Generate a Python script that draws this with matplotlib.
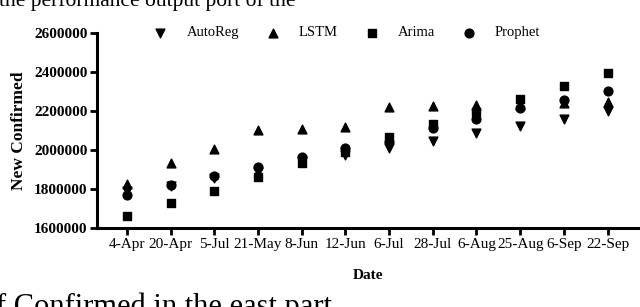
import matplotlib.pyplot as plt

plt.rcParams['font.family'] = ['Liberation Serif', 'DejaVu Serif']

dates = ['4-Apr', '20-Apr', '5-Jul', '21-May', '8-Jun', '12-Jun', '6-Jul',
         '28-Jul', '6-Aug', '25-Aug', '6-Sep', '22-Sep']
autoreg = [1790000, 1815000, 1855000, 1885000, 1945000, 1974000, 2009000,
           2048000, 2086000, 2123000, 2160000, 2200000]
lstm = [1824000, 1932000, 2003000, 2102000, 2110000, 2117000, 2219000,
        2225000, 2231000, 2230000, 2239000, 2248000]
arima = [1661000, 1727000, 1791000, 1863000, 1932000, 1990000, 2065000,
         2132000, 2196000, 2262000, 2328000, 2396000]
prophet = [1769000, 1820000, 1868000, 1914000, 1966000, 2009000, 2040000,
           2111000, 2159000, 2214000, 2256000, 2302000]
yticks = [1600000, 1800000, 2000000, 2200000, 2400000, 2600000]

fig = plt.figure(figsize=(6.4, 3.07), dpi=100)
ax = fig.add_axes([0.152, 0.257, 0.845, 0.636])

x = range(len(dates))
ax.scatter(x, autoreg, marker='v', s=40, color='black', label='AutoReg', zorder=3)
ax.scatter(x, lstm, marker='^', s=40, color='black', label='LSTM', zorder=3)
ax.scatter(x, arima, marker='s', s=36, color='black', label='Arima', zorder=3)
ax.scatter(x, prophet, marker='o', s=40, color='black', label='Prophet', zorder=3)

ax.set_xlim(-0.68, 11.7)
ax.set_ylim(1600000, 2600000)
ax.set_yticks(yticks)
ax.set_yticklabels([str(v) for v in yticks], fontweight='bold', fontsize=11)
ax.set_xticks(list(x))
ax.set_xticklabels(dates, fontsize=11)

for s in ['top', 'right']:
    ax.spines[s].set_visible(False)
for s in ['left', 'bottom']:
    ax.spines[s].set_linewidth(2.2)
ax.tick_params(axis='both', width=2, length=5, direction='out', pad=2)
ax.spines['left'].set_clip_on(False)

ax.set_ylabel('New Confirmed', fontweight='bold', fontsize=12.5, labelpad=5)
ax.set_xlabel('Date', fontweight='bold', fontsize=11, labelpad=13)

fig.legend(loc='center', bbox_to_anchor=(0.536, 0.893), ncol=4, frameon=False,
           fontsize=10.5, handletextpad=0.8, columnspacing=1.3, borderpad=0)

# fragments of surrounding page text
fig.text(-0.002, 0.980, 'the performance output port of the', fontsize=15.5,
         va='baseline', ha='left')
fig.text(-0.006, -0.026, 'f Confirmed in the east part', fontsize=22,
         va='baseline', ha='left')

fig.savefig('out.png', dpi=100)
